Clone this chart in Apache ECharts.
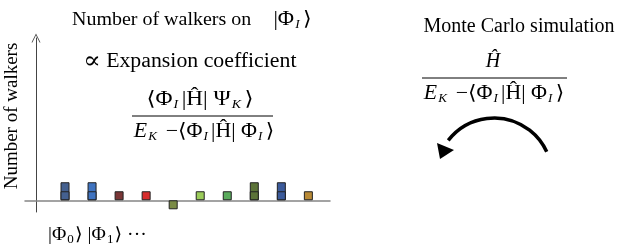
<!DOCTYPE html>
<html>
<head>
<meta charset="utf-8">
<script src="https://cdn.jsdelivr.net/npm/echarts@6.0.0/dist/echarts.min.js"></script>
<style>
  html, body { margin: 0; padding: 0; background: #fff; }
  #chart { width: 619px; height: 248px; }
</style>
</head>
<body>
<div id="chart"></div>
<script>
// determinant index along the x axis
const states = [1, 2, 3, 4, 5, 6, 7, 8, 9, 10];
// walkers sitting on each determinant (negative = below the line)
const walkers = [2, 2, 1, 1, -1, 1, 1, 2, 2, 1];
const blockColors = ['#44608f', '#3f73c0', '#7a3636', '#d62c2c', '#7a8b45',
                     '#9bcc5a', '#5aab5c', '#5c7338', '#3b5a9a', '#b98a36'];

const serif = '"Liberation Serif", "DejaVu Serif", serif';

// full column, then the first walker drawn over it so the split shows
const totalData = states.map((s, i) => [s, walkers[i]]);
const firstData = states.map((s, i) => Math.abs(walkers[i]) > 1 ? [s, Math.sign(walkers[i])] : [s, '-']);

const sub = { fontSize: 12, fontStyle: 'italic', fontFamily: serif, padding: [10, 3, 0, 1] };
const subUp = { fontSize: 12, fontFamily: serif, padding: [10, 1, 0, 1] };
const ital = { fontStyle: 'italic', fontFamily: serif, fontSize: 20 };
const big = { fontFamily: serif, fontSize: 24 };
const mid = { fontFamily: serif, fontSize: 20 };

const textEl = (x, y, text, size, align, extra) => Object.assign({
  type: 'text',
  x: x,
  y: y,
  style: {
    text: text,
    font: size + 'px ' + serif,
    fill: '#000',
    align: align,
    verticalAlign: 'middle',
    rich: { s: sub, u: subUp, i: ital, b: big, m: mid }
  }
}, extra || {});

const wide = { scaleX: 1.09 };

const barSeries = (data) => ({
  type: 'bar',
  barWidth: 9,
  barGap: '-100%',
  data: data,
  itemStyle: {
    color: (p) => blockColors[p.dataIndex],
    borderColor: '#222',
    borderWidth: 1
  }
});

const chart = echarts.init(document.getElementById('chart'));
chart.setOption({
  animation: false,
  grid: { left: 25, right: 289, top: 38, bottom: 36 },
  xAxis: {
    type: 'value',
    min: -0.48,
    max: 10.8,
    splitLine: { show: false },
    axisLabel: { show: false },
    axisTick: { show: false },
    axisLine: { show: true, onZero: true, lineStyle: { color: '#858585', width: 1.5 } }
  },
  yAxis: {
    type: 'value',
    min: -1.3,
    max: 18,
    offset: -11,
    splitLine: { show: false },
    axisLabel: { show: false },
    axisTick: { show: false },
    axisLine: {
      show: true,
      onZero: false,
      symbol: ['none', 'path://M0,10L5,0L10,10L9,10L5,2L1,10Z'],
      symbolSize: [9, 10],
      lineStyle: { color: '#444', width: 1 }
    }
  },
  series: [barSeries(totalData), barSeries(firstData)],
  graphic: [
    textEl(72, 20, 'Number of walkers on{m|    |Φ}{s|I}{m|⟩}', 18, 'left', { scaleX: 1.11 }),
    textEl(83, 62, '{b|∝} Expansion coefficient', 20, 'left', wide),
    textEl(200, 100, '⟨Φ{s|I}|Ĥ| Ψ{s|K}⟩', 20, 'center', { scaleX: 1.16 }),
    { type: 'line', shape: { x1: 132, y1: 116, x2: 273, y2: 116 }, style: { stroke: '#000', lineWidth: 1 } },
    textEl(204, 132, '{i|E}{s|K} −⟨Φ{s|I}|Ĥ| Φ{s|I}⟩', 20, 'center', wide),
    textEl(12, 116, 'Number of walkers', 19, 'center', { rotation: Math.PI / 2 }),
    textEl(48, 235, '|Φ{u|0}⟩ |Φ{u|1}⟩ ···', 18, 'left', wide),
    textEl(519, 27, 'Monte Carlo simulation', 20, 'center'),
    textEl(493, 62, '{i|Ĥ}', 20, 'center'),
    { type: 'line', shape: { x1: 422, y1: 78, x2: 567, y2: 78 }, style: { stroke: '#000', lineWidth: 1 } },
    textEl(494, 94, '{i|E}{s|K} −⟨Φ{s|I}|Ĥ| Φ{s|I}⟩', 20, 'center', wide),
    {
      type: 'arc',
      shape: { cx: 494, cy: 176, r: 58, startAngle: -2.48, endAngle: -0.43, clockwise: true },
      style: { stroke: '#000', lineWidth: 3.5, fill: null }
    },
    {
      type: 'polygon',
      shape: { points: [[440, 159], [437, 143], [454, 150]] },
      style: { fill: '#000' }
    }
  ]
});
</script>
</body>
</html>
